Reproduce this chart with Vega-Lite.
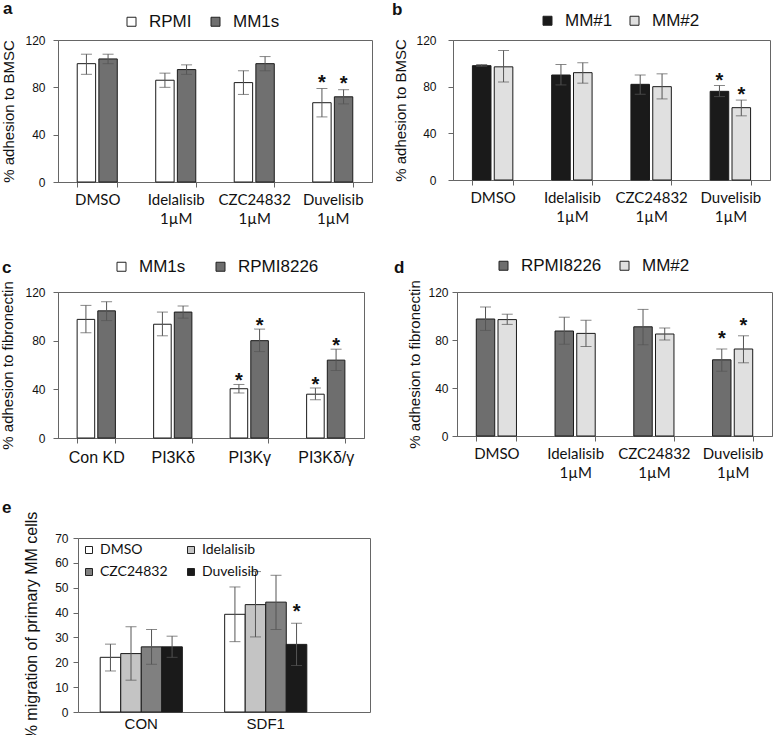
{
  "$schema": "https://vega.github.io/schema/vega-lite/v6.json",
  "autosize": {"type": "none"},
  "padding": {"left": 58, "top": 40, "right": 718, "bottom": 695},
  "background": "white",
  "config": {
    "font": "Liberation Sans",
    "view": {"stroke": "#666666", "strokeWidth": 1},
    "axis": {"domainColor": "#666666", "tickColor": "#666666", "labelColor": "#111111", "titleColor": "#111111", "grid": false, "labelFont": "Liberation Sans", "titleFont": "Liberation Sans", "titleFontWeight": "normal"},
    "axisY": {"labelOverlap": false},
    "legend": {"padding": 0, "symbolType": "square", "symbolSize": 81, "symbolStrokeColor": "#222222", "symbolStrokeWidth": 1, "labelFont": "Liberation Sans", "labelFontSize": 17, "labelColor": "#111111", "labelOffset": 9, "title": null},
    "title": {"font": "Liberation Sans", "fontSize": 17, "fontWeight": "bold", "color": "#111111", "anchor": "start", "frame": "group", "baseline": "alphabetic"}
  },
  "datasets": {
    "a": [
      {"cat": "DMSO", "grp": "RPMI", "v": 100, "lo": 91, "hi": 108, "sig": 0},
      {"cat": "DMSO", "grp": "MM1s", "v": 104, "lo": 100, "hi": 108, "sig": 0},
      {"cat": "Idelalisib|1µM", "grp": "RPMI", "v": 86, "lo": 80, "hi": 92, "sig": 0},
      {"cat": "Idelalisib|1µM", "grp": "MM1s", "v": 95, "lo": 91, "hi": 99, "sig": 0},
      {"cat": "CZC24832|1µM", "grp": "RPMI", "v": 84, "lo": 74, "hi": 94, "sig": 0},
      {"cat": "CZC24832|1µM", "grp": "MM1s", "v": 100, "lo": 94, "hi": 106, "sig": 0},
      {"cat": "Duvelisib|1µM", "grp": "RPMI", "v": 67, "lo": 55, "hi": 79, "sig": 1},
      {"cat": "Duvelisib|1µM", "grp": "MM1s", "v": 72, "lo": 66, "hi": 78, "sig": 1}
    ],
    "b": [
      {"cat": "DMSO", "grp": "MM#1", "v": 98, "lo": 97.5, "hi": 99, "sig": 0},
      {"cat": "DMSO", "grp": "MM#2", "v": 97, "lo": 84, "hi": 111, "sig": 0},
      {"cat": "Idelalisib|1µM", "grp": "MM#1", "v": 90, "lo": 81.5, "hi": 99, "sig": 0},
      {"cat": "Idelalisib|1µM", "grp": "MM#2", "v": 92, "lo": 83, "hi": 100.5, "sig": 0},
      {"cat": "CZC24832|1µM", "grp": "MM#1", "v": 82, "lo": 73.5, "hi": 90, "sig": 0},
      {"cat": "CZC24832|1µM", "grp": "MM#2", "v": 80, "lo": 69.5, "hi": 91, "sig": 0},
      {"cat": "Duvelisib|1µM", "grp": "MM#1", "v": 76, "lo": 71.5, "hi": 81, "sig": 1},
      {"cat": "Duvelisib|1µM", "grp": "MM#2", "v": 62, "lo": 55, "hi": 68.5, "sig": 1}
    ],
    "c": [
      {"cat": "Con KD", "grp": "MM1s", "v": 97.5, "lo": 86.5, "hi": 109, "sig": 0},
      {"cat": "Con KD", "grp": "RPMI8226", "v": 104.5, "lo": 96.5, "hi": 112, "sig": 0},
      {"cat": "PI3Kδ", "grp": "MM1s", "v": 93.5, "lo": 84, "hi": 103.5, "sig": 0},
      {"cat": "PI3Kδ", "grp": "RPMI8226", "v": 103.5, "lo": 98.5, "hi": 108.5, "sig": 0},
      {"cat": "PI3Kγ", "grp": "MM1s", "v": 40.5, "lo": 37, "hi": 44, "sig": 1},
      {"cat": "PI3Kγ", "grp": "RPMI8226", "v": 80, "lo": 71, "hi": 89.5, "sig": 1},
      {"cat": "PI3Kδ/γ", "grp": "MM1s", "v": 36, "lo": 31.5, "hi": 41, "sig": 1},
      {"cat": "PI3Kδ/γ", "grp": "RPMI8226", "v": 64, "lo": 55.5, "hi": 73, "sig": 1}
    ],
    "d": [
      {"cat": "DMSO", "grp": "RPMI8226", "v": 97.5, "lo": 88, "hi": 107.5, "sig": 0},
      {"cat": "DMSO", "grp": "MM#2", "v": 97, "lo": 93, "hi": 101.5, "sig": 0},
      {"cat": "Idelalisib|1µM", "grp": "RPMI8226", "v": 87.5, "lo": 76.5, "hi": 99, "sig": 0},
      {"cat": "Idelalisib|1µM", "grp": "MM#2", "v": 85.5, "lo": 74.5, "hi": 96.5, "sig": 0},
      {"cat": "CZC24832|1µM", "grp": "RPMI8226", "v": 91, "lo": 76, "hi": 105.5, "sig": 0},
      {"cat": "CZC24832|1µM", "grp": "MM#2", "v": 85, "lo": 80, "hi": 90, "sig": 0},
      {"cat": "Duvelisib|1µM", "grp": "RPMI8226", "v": 63.5, "lo": 54, "hi": 72.5, "sig": 1},
      {"cat": "Duvelisib|1µM", "grp": "MM#2", "v": 72.5, "lo": 61, "hi": 83.5, "sig": 1}
    ],
    "e": [
      {"cat": "CON", "grp": "DMSO", "v": 22, "lo": 16.5, "hi": 27.3, "sig": 0},
      {"cat": "CON", "grp": "Idelalisib", "v": 23.5, "lo": 12.8, "hi": 34.3, "sig": 0},
      {"cat": "CON", "grp": "CZC24832", "v": 26.2, "lo": 19.2, "hi": 33.2, "sig": 0},
      {"cat": "CON", "grp": "Duvelisib", "v": 26.2, "lo": 22, "hi": 30.5, "sig": 0},
      {"cat": "SDF1", "grp": "DMSO", "v": 39.3, "lo": 28.3, "hi": 50.3, "sig": 0},
      {"cat": "SDF1", "grp": "Idelalisib", "v": 43.2, "lo": 30.2, "hi": 56.5, "sig": 0},
      {"cat": "SDF1", "grp": "CZC24832", "v": 44.2, "lo": 33.2, "hi": 55, "sig": 0},
      {"cat": "SDF1", "grp": "Duvelisib", "v": 27.2, "lo": 18.7, "hi": 35.7, "sig": 1}
    ]
  },
  "spacing": 498,
  "bounds": "flush",
  "resolve": {"scale": {"x": "independent", "y": "independent", "color": "independent", "xOffset": "independent"}, "legend": {"color": "independent"}},
  "vconcat": [
    {
      "spacing": 252,
      "bounds": "flush",
      "resolve": {"scale": {"x": "independent", "y": "independent", "color": "independent", "xOffset": "independent"}, "legend": {"color": "independent"}},
      "vconcat": [
        {
          "spacing": 81,
          "bounds": "flush",
          "resolve": {"scale": {"x": "independent", "y": "independent", "color": "independent", "xOffset": "independent"}, "legend": {"color": "independent"}},
          "hconcat": [
            {
              "width": 314, "height": 142,
              "data": {"name": "a"},
              "title": {"text": "a", "dx": -55, "offset": -5},
              "encoding": {
                "x": {"field": "cat", "type": "nominal", "sort": null, "scale": {"paddingInner": 0.49, "paddingOuter": 0.245},
                  "axis": {"title": null, "labelAngle": 0, "tickBand": "extent", "labelExpr": "isValid(datum.value) ? split(datum.value, '|') : ''", "labelFont": "Lato", "labelFontSize": 15, "labelLineHeight": 19, "tickSize": 5, "labelPadding": 5, "labelOverlap": false}},
                "xOffset": {"field": "grp", "type": "nominal", "sort": ["RPMI", "MM1s"], "scale": {"paddingInner": 0.15}}
              },
              "layer": [
                {"mark": {"type": "bar", "stroke": "#1a1a1a", "strokeWidth": 1},
                  "encoding": {
                    "y": {"field": "v", "type": "quantitative", "title": "% adhesion to BMSC", "scale": {"domain": [0, 120], "nice": false},
                      "axis": {"values": [0, 20, 40, 60, 80, 100, 120], "tickSize": 5, "labelPadding": 8, "labelFontSize": 12, "titleFontSize": 15, "titlePadding": 8}},
                    "color": {"field": "grp", "type": "nominal", "scale": {"domain": ["RPMI", "MM1s"], "range": ["#ffffff", "#707070"]},
                      "legend": {"orient": "none", "legendX": 65, "legendY": -27, "direction": "horizontal", "columnPadding": 15}}
                  }},
                {"mark": {"type": "rule", "color": "#555555", "strokeWidth": 1}, "encoding": {"y": {"field": "lo", "type": "quantitative", "title": "% adhesion to BMSC"}, "y2": {"field": "hi"}}},
                {"mark": {"type": "tick", "color": "#555555", "orient": "horizontal", "size": 11, "thickness": 1}, "encoding": {"y": {"field": "lo", "type": "quantitative", "title": "% adhesion to BMSC"}}},
                {"mark": {"type": "tick", "color": "#555555", "orient": "horizontal", "size": 11, "thickness": 1}, "encoding": {"y": {"field": "hi", "type": "quantitative", "title": "% adhesion to BMSC"}}},
                {"transform": [{"filter": "datum.sig == 1"}], "mark": {"type": "text", "text": "*", "fontSize": 20, "fontWeight": "bold", "baseline": "alphabetic", "dy": 0, "color": "#111111"}, "encoding": {"y": {"field": "hi", "type": "quantitative", "title": "% adhesion to BMSC"}}}
              ]
            },
            {
              "width": 317, "height": 140,
              "data": {"name": "b"},
              "title": {"text": "b", "dx": -61, "offset": -7},
              "encoding": {
                "x": {"field": "cat", "type": "nominal", "sort": null, "scale": {"paddingInner": 0.49, "paddingOuter": 0.245},
                  "axis": {"title": null, "labelAngle": 0, "tickBand": "extent", "labelExpr": "isValid(datum.value) ? split(datum.value, '|') : ''", "labelFont": "Lato", "labelFontSize": 15, "labelLineHeight": 19, "tickSize": 5, "labelPadding": 5, "labelOverlap": false}},
                "xOffset": {"field": "grp", "type": "nominal", "sort": ["MM#1", "MM#2"], "scale": {"paddingInner": 0.15}}
              },
              "layer": [
                {"mark": {"type": "bar", "stroke": "#1a1a1a", "strokeWidth": 1},
                  "encoding": {
                    "y": {"field": "v", "type": "quantitative", "title": "% adhesion to BMSC", "scale": {"domain": [0, 120], "nice": false},
                      "axis": {"values": [0, 20, 40, 60, 80, 100, 120], "tickSize": 5, "labelPadding": 12, "labelFontSize": 12, "titleFontSize": 15, "titlePadding": 7}},
                    "color": {"field": "grp", "type": "nominal", "scale": {"domain": ["MM#1", "MM#2"], "range": ["#1a1a1a", "#e0e0e0"]},
                      "legend": {"orient": "none", "legendX": 86, "legendY": -28, "direction": "horizontal", "columnPadding": 13}}
                  }},
                {"mark": {"type": "rule", "color": "#555555", "strokeWidth": 1}, "encoding": {"y": {"field": "lo", "type": "quantitative", "title": "% adhesion to BMSC"}, "y2": {"field": "hi"}}},
                {"mark": {"type": "tick", "color": "#555555", "orient": "horizontal", "size": 11, "thickness": 1}, "encoding": {"y": {"field": "lo", "type": "quantitative", "title": "% adhesion to BMSC"}}},
                {"mark": {"type": "tick", "color": "#555555", "orient": "horizontal", "size": 11, "thickness": 1}, "encoding": {"y": {"field": "hi", "type": "quantitative", "title": "% adhesion to BMSC"}}},
                {"transform": [{"filter": "datum.sig == 1"}], "mark": {"type": "text", "text": "*", "fontSize": 20, "fontWeight": "bold", "baseline": "alphabetic", "dy": 1, "color": "#111111"}, "encoding": {"y": {"field": "hi", "type": "quantitative", "title": "% adhesion to BMSC"}}}
              ]
            }
          ]
        },
        {
          "spacing": 93,
          "bounds": "flush",
          "resolve": {"scale": {"x": "independent", "y": "independent", "color": "independent", "xOffset": "independent"}, "legend": {"color": "independent"}},
          "hconcat": [
            {
              "width": 306, "height": 146,
              "data": {"name": "c"},
              "title": {"text": "c", "dx": -56, "offset": -19},
              "encoding": {
                "x": {"field": "cat", "type": "nominal", "sort": null, "scale": {"paddingInner": 0.5, "paddingOuter": 0.25},
                  "axis": {"title": null, "labelAngle": 0, "tickBand": "extent", "labelExpr": "isValid(datum.value) ? datum.value : ''", "labelFontSize": 16, "tickSize": 5, "labelPadding": 6, "labelOverlap": false}},
                "xOffset": {"field": "grp", "type": "nominal", "sort": ["MM1s", "RPMI8226"], "scale": {"paddingInner": 0.15}}
              },
              "layer": [
                {"mark": {"type": "bar", "stroke": "#1a1a1a", "strokeWidth": 1},
                  "encoding": {
                    "y": {"field": "v", "type": "quantitative", "title": "% adhesion to fibronectin", "scale": {"domain": [0, 120], "nice": false},
                      "axis": {"values": [0, 20, 40, 60, 80, 100, 120], "tickSize": 5, "labelPadding": 8, "labelFontSize": 12, "titleFontSize": 15, "titlePadding": 9}},
                    "color": {"field": "grp", "type": "nominal", "scale": {"domain": ["MM1s", "RPMI8226"], "range": ["#ffffff", "#6e6e6e"]},
                      "legend": {"orient": "none", "legendX": 55, "legendY": -34, "direction": "horizontal", "columnPadding": 26}}
                  }},
                {"mark": {"type": "rule", "color": "#555555", "strokeWidth": 1}, "encoding": {"y": {"field": "lo", "type": "quantitative", "title": "% adhesion to fibronectin"}, "y2": {"field": "hi"}}},
                {"mark": {"type": "tick", "color": "#555555", "orient": "horizontal", "size": 11, "thickness": 1}, "encoding": {"y": {"field": "lo", "type": "quantitative", "title": "% adhesion to fibronectin"}}},
                {"mark": {"type": "tick", "color": "#555555", "orient": "horizontal", "size": 11, "thickness": 1}, "encoding": {"y": {"field": "hi", "type": "quantitative", "title": "% adhesion to fibronectin"}}},
                {"transform": [{"filter": "datum.sig == 1"}], "mark": {"type": "text", "text": "*", "fontSize": 20, "fontWeight": "bold", "baseline": "alphabetic", "dy": 3, "color": "#111111"}, "encoding": {"y": {"field": "hi", "type": "quantitative", "title": "% adhesion to fibronectin"}}}
              ]
            },
            {
              "width": 315, "height": 144,
              "data": {"name": "d"},
              "title": {"text": "d", "dx": -63, "offset": -20},
              "encoding": {
                "x": {"field": "cat", "type": "nominal", "sort": null, "scale": {"paddingInner": 0.49, "paddingOuter": 0.245},
                  "axis": {"title": null, "labelAngle": 0, "tickBand": "extent", "labelExpr": "isValid(datum.value) ? split(datum.value, '|') : ''", "labelFont": "Lato", "labelFontSize": 15, "labelLineHeight": 19, "tickSize": 5, "labelPadding": 5, "labelOverlap": false}},
                "xOffset": {"field": "grp", "type": "nominal", "sort": ["RPMI8226", "MM#2"], "scale": {"paddingInner": 0.15}}
              },
              "layer": [
                {"mark": {"type": "bar", "stroke": "#1a1a1a", "strokeWidth": 1},
                  "encoding": {
                    "y": {"field": "v", "type": "quantitative", "title": "% adhesion to fibronectin", "scale": {"domain": [0, 120], "nice": false},
                      "axis": {"values": [0, 20, 40, 60, 80, 100, 120], "tickSize": 5, "labelPadding": 4, "labelFontSize": 12, "titleFontSize": 15, "titlePadding": 5}},
                    "color": {"field": "grp", "type": "nominal", "scale": {"domain": ["RPMI8226", "MM#2"], "range": ["#6e6e6e", "#e0e0e0"]},
                      "legend": {"orient": "none", "legendX": 38, "legendY": -35, "direction": "horizontal", "columnPadding": 14}}
                  }},
                {"mark": {"type": "rule", "color": "#555555", "strokeWidth": 1}, "encoding": {"y": {"field": "lo", "type": "quantitative", "title": "% adhesion to fibronectin"}, "y2": {"field": "hi"}}},
                {"mark": {"type": "tick", "color": "#555555", "orient": "horizontal", "size": 11, "thickness": 1}, "encoding": {"y": {"field": "lo", "type": "quantitative", "title": "% adhesion to fibronectin"}}},
                {"mark": {"type": "tick", "color": "#555555", "orient": "horizontal", "size": 11, "thickness": 1}, "encoding": {"y": {"field": "hi", "type": "quantitative", "title": "% adhesion to fibronectin"}}},
                {"transform": [{"filter": "datum.sig == 1"}], "mark": {"type": "text", "text": "*", "fontSize": 20, "fontWeight": "bold", "baseline": "alphabetic", "dy": -4, "color": "#111111"}, "encoding": {"y": {"field": "hi", "type": "quantitative", "title": "% adhesion to fibronectin"}}}
              ]
            }
          ]
        }
      ]
    },
    {
      "width": 312, "height": 174,
      "data": {"name": "e"},
      "view": {"stroke": null},
      "title": {"text": "e", "dx": -56, "offset": -6},
      "resolve": {"axis": {"x": "independent", "y": "independent"}},
      "layer": [
        {"mark": {"type": "bar", "stroke": "#1a1a1a", "strokeWidth": 1},
          "encoding": {
            "x": {"field": "cat", "type": "nominal", "sort": null, "scale": {"range": [20, 312], "paddingInner": 0.34, "paddingOuter": 0.343, "align": 0.26},
              "axis": {"title": null, "labelAngle": 0, "ticks": false, "labelFontSize": 15, "labelPadding": 4, "labelOverlap": false}},
            "xOffset": {"field": "grp", "type": "nominal", "sort": ["DMSO", "Idelalisib", "CZC24832", "Duvelisib"], "scale": {"paddingInner": 0}},
            "y": {"field": "v", "type": "quantitative", "title": "% migration of primary MM cells", "scale": {"domain": [0, 70], "nice": false},
              "axis": {"offset": -20, "values": [0, 10, 20, 30, 40, 50, 60, 70], "tickSize": 5, "labelPadding": 5, "labelFontSize": 12, "titleFontSize": 16, "titlePadding": 15}},
            "color": {"field": "grp", "type": "nominal", "scale": {"domain": ["DMSO", "Idelalisib", "CZC24832", "Duvelisib"], "range": ["#ffffff", "#c4c4c4", "#808080", "#1a1a1a"]},
              "legend": {"orient": "none", "legendX": 24, "legendY": 5, "direction": "horizontal", "columns": 2, "columnPadding": 16, "rowPadding": 8, "symbolSize": 49, "labelOffset": 4, "labelFont": "Lato", "labelFontSize": 14}}
          }},
        {"mark": {"type": "rule", "color": "#555555", "strokeWidth": 1},
          "encoding": {
            "x": {"field": "cat", "type": "nominal", "sort": null, "scale": {"range": [20, 312], "paddingInner": 0.34, "paddingOuter": 0.343, "align": 0.26},
              "axis": {"orient": "top", "title": null, "labels": false, "ticks": false, "domain": true}},
            "xOffset": {"field": "grp", "type": "nominal", "sort": ["DMSO", "Idelalisib", "CZC24832", "Duvelisib"], "scale": {"paddingInner": 0}},
            "y": {"field": "lo", "type": "quantitative", "scale": {"domain": [0, 70], "nice": false},
              "axis": {"orient": "right", "title": null, "labels": false, "ticks": false, "domain": true}},
            "y2": {"field": "hi"}
          }},
        {"mark": {"type": "tick", "color": "#555555", "orient": "horizontal", "size": 11, "thickness": 1},
          "encoding": {
            "x": {"field": "cat", "type": "nominal", "sort": null, "axis": null},
            "xOffset": {"field": "grp", "type": "nominal", "sort": ["DMSO", "Idelalisib", "CZC24832", "Duvelisib"]},
            "y": {"field": "lo", "type": "quantitative", "axis": null}
          }},
        {"mark": {"type": "tick", "color": "#555555", "orient": "horizontal", "size": 11, "thickness": 1},
          "encoding": {
            "x": {"field": "cat", "type": "nominal", "sort": null, "axis": null},
            "xOffset": {"field": "grp", "type": "nominal", "sort": ["DMSO", "Idelalisib", "CZC24832", "Duvelisib"]},
            "y": {"field": "hi", "type": "quantitative", "axis": null}
          }},
        {"transform": [{"filter": "datum.sig == 1"}],
          "mark": {"type": "text", "text": "*", "fontSize": 20, "fontWeight": "bold", "baseline": "alphabetic", "dy": -5, "color": "#111111"},
          "encoding": {
            "x": {"field": "cat", "type": "nominal", "sort": null, "axis": null},
            "xOffset": {"field": "grp", "type": "nominal", "sort": ["DMSO", "Idelalisib", "CZC24832", "Duvelisib"]},
            "y": {"field": "hi", "type": "quantitative", "axis": null}
          }}
      ]
    }
  ]
}
